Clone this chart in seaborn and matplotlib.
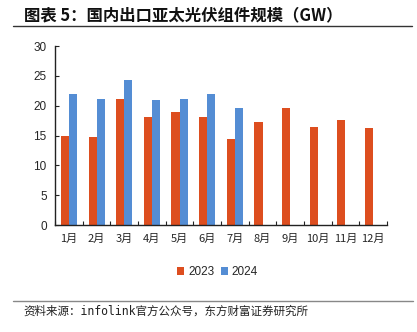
import matplotlib
matplotlib.use("Agg")
import matplotlib.pyplot as plt
import seaborn as sns
import pandas as pd
import numpy as np

months = ["1月", "2月", "3月", "4月", "5月", "6月", "7月", "8月", "9月", "10月", "11月", "12月"]
v2023 = [14.9, 14.8, 21.2, 18.1, 19.0, 18.1, 14.5, 17.3, 19.7, 16.4, 17.7, 16.2]
v2024 = [21.9, 21.1, 24.4, 20.9, 21.1, 22.0, 19.6, np.nan, np.nan, np.nan, np.nan, np.nan]
series = ["2023", "2024"]
colors = ["#DD4E1F", "#548DD4"]
title = "图表 5：国内出口亚太光伏组件规模（GW）"
source = "资料来源：infolink官方公众号，东方财富证券研究所"

df = pd.DataFrame({
    "month": months * 2,
    "value": v2023 + v2024,
    "year": [series[0]] * len(months) + [series[1]] * len(months),
})

sns.set_theme(style="white")
plt.rcParams["font.family"] = ["Noto Sans CJK SC", "DejaVu Sans"]

fig = plt.figure(figsize=(4.17, 3.32), dpi=100)
ax = fig.add_axes([0.132, 0.322, 0.796, 0.539])

sns.barplot(data=df, x="month", y="value", hue="year", order=months,
            hue_order=series, palette=colors, width=0.58, ax=ax,
            linewidth=0, saturation=1, legend=True)

ax.set_ylim(0, 30)
ax.set_yticks(range(0, 31, 5))
ax.set_xlim(-0.5, len(months) - 0.5)
ax.set_xlabel("")
ax.set_ylabel("")
for s in ["top", "right"]:
    ax.spines[s].set_visible(False)
for s in ["left", "bottom"]:
    ax.spines[s].set_color("#222222")
    ax.spines[s].set_linewidth(1.0)

ax.tick_params(axis="y", direction="in", length=3, width=0.8, color="#222222",
               labelsize=8.5, pad=6, left=True)
for lbl in ax.get_yticklabels():
    lbl.set_fontfamily(["Liberation Sans", "DejaVu Sans"])
ax.tick_params(axis="x", length=0, labelsize=8, pad=6)
ax.set_xticks(np.arange(-0.5, len(months), 1.0), minor=True)
ax.tick_params(axis="x", which="minor", direction="in", length=3, width=0.8,
               color="#222222", bottom=True)

leg = ax.legend(loc="upper center", bbox_to_anchor=(0.49, -0.17), ncol=2,
                frameon=False, fontsize=8.5, handlelength=0.6, handleheight=0.6,
                handletextpad=0.3, columnspacing=0.6)
for t in leg.get_texts():
    t.set_fontfamily(["Liberation Sans", "DejaVu Sans"])

fig.text(0.058, 0.955, title, fontsize=11.8, fontweight="bold", color="#111111",
         va="center", ha="left", family=["Noto Sans CJK SC", "DejaVu Sans"])
fig.add_artist(plt.Line2D([0.031, 0.988], [0.922, 0.922], color="#333333", lw=1.0))
fig.add_artist(plt.Line2D([0.031, 0.99], [0.093, 0.093], color="#888888", lw=1.0))
fig.text(0.055, 0.063, source, fontsize=8.3, color="#222222", va="center", ha="left",
         family=["DejaVu Sans Mono", "Noto Sans CJK SC"])

fig.savefig("out.png", dpi=100)
